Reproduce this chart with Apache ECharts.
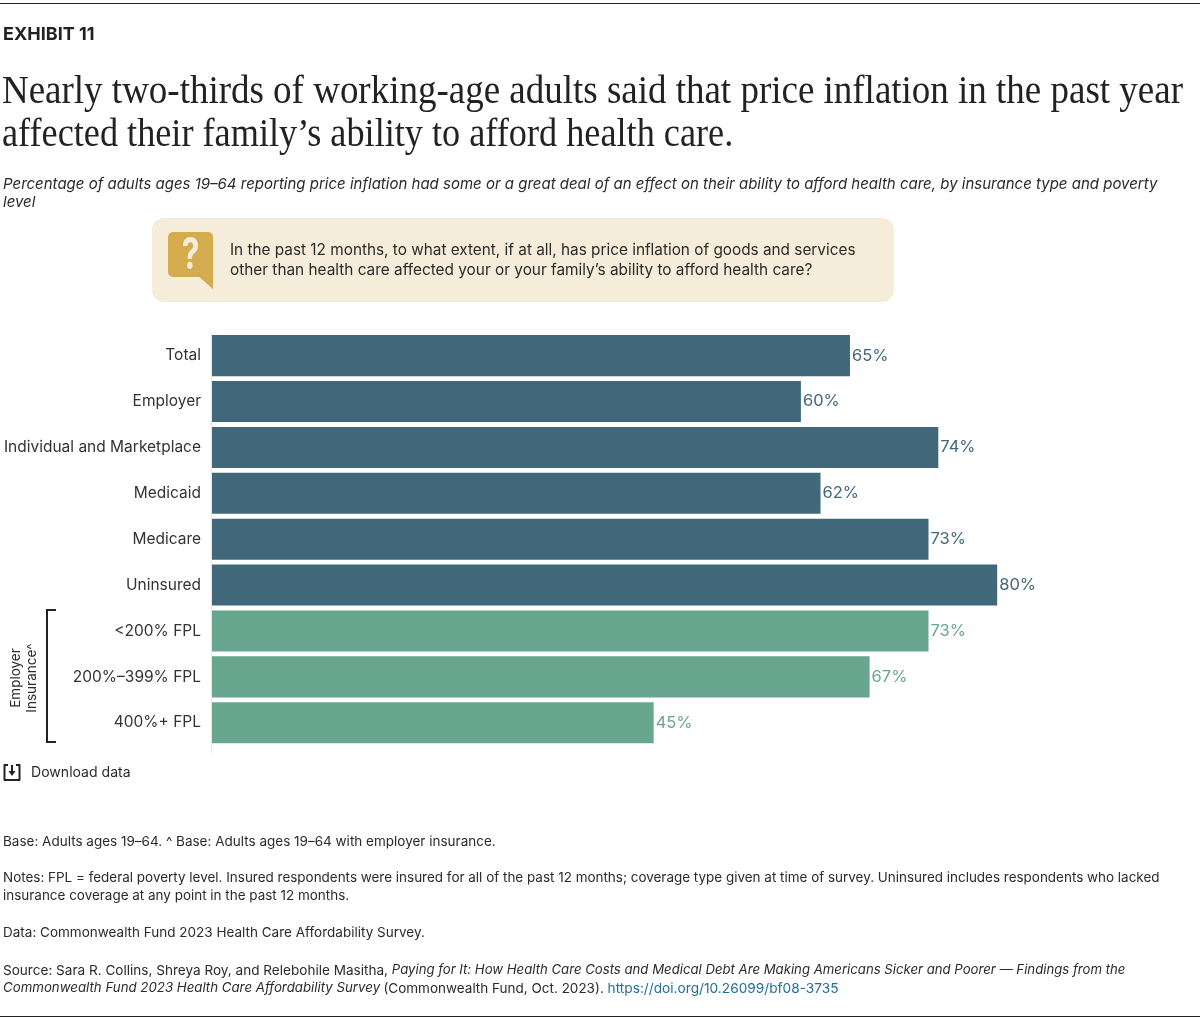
<!DOCTYPE html>
<html><head><meta charset="utf-8">
<style>html,body{margin:0;padding:0;background:#fff}#c{width:1200px;height:1020px}</style>
<script src="https://cdn.jsdelivr.net/npm/echarts@6/dist/echarts.min.js"></script>
</head><body><div id="c"></div>
<script>
const categories = ['Total','Employer','Individual and Marketplace','Medicaid','Medicare','Uninsured','<200% FPL','200%–399% FPL','400%+ FPL'];
const values = [65,60,74,62,73,80,73,67,45];
const groups = ['all','all','all','all','all','all','fpl','fpl','fpl'];
const groupColors = {all:'#41687a', fpl:'#68a690'};
const SANS = 'Inter';
const SERIF = '"Liberation Serif"';
const INK = '#2b2b2b';

function txt(x,y,text,o,extra){
  return Object.assign({type:'text',x,y,silent:true,style:Object.assign({text,fill:INK,font:'15px '+SANS,textVerticalAlign:'middle'},o||{})},extra||{});
}
const chart = echarts.init(document.getElementById('c'),null,{renderer:'canvas'});
chart.setOption({
  animation:false,
  backgroundColor:'#fff',
  grid:{left:212,top:332.7,width:981.5,height:413,containLabel:false},
  xAxis:{type:'value',min:0,max:100,show:false},
  yAxis:{type:'category',inverse:true,data:categories,
    axisLine:{show:false},axisTick:{show:false},
    axisLabel:{color:'#333',fontFamily:SANS,fontSize:15.5,margin:11}},
  series:[{type:'bar',barCategoryGap:'10.5%',
    data:values.map((v,i)=>({value:v,
      itemStyle:{color:groupColors[groups[i]]},
      label:{color:groupColors[groups[i]]}})),
    label:{show:true,position:'right',distance:2,fontFamily:SANS,fontSize:16.5,formatter:p=>p.value+'%'}
  }],
  graphic:{elements:[
    {type:'line',silent:true,shape:{x1:0,y1:3.5,x2:1200,y2:3.5},style:{stroke:'#222',lineWidth:1}},
    {type:'line',silent:true,shape:{x1:0,y1:1016.5,x2:1200,y2:1016.5},style:{stroke:'#222',lineWidth:1}},
    txt(3,35,'EXHIBIT 11',{font:'bold 18px '+SANS,fill:'#222'}),
    txt(2,92,'Nearly two-thirds of working-age adults said that price inflation in the past year',{font:'40px '+SERIF,fill:'#222'},{scaleX:0.9245}),
    txt(2,135,'affected their family’s ability to afford health care.',{font:'40px '+SERIF,fill:'#222'},{scaleX:0.906}),
    txt(3,184,'Percentage of adults ages 19–64 reporting price inflation had some or a great deal of an effect on their ability to afford health care, by insurance type and poverty',{font:'italic 15px '+SANS}),
    txt(3,202,'level',{font:'italic 15px '+SANS}),
    {type:'rect',silent:true,shape:{x:152,y:218,width:742,height:84,r:12},style:{fill:'#f5edda'}},
    {type:'rect',silent:true,shape:{x:168,y:232,width:45,height:45,r:5},style:{fill:'#d4ab4d'}},
    {type:'polygon',silent:true,shape:{points:[[197,275],[213,270],[213,289]]},style:{fill:'#d4ab4d'}},
    txt(190.5,255.5,'?',{font:'bold 44px '+SANS,fill:'#f5edda',textAlign:'center'},{scaleX:0.72}),
    txt(230,250,'In the past 12 months, to what extent, if at all, has price inflation of goods and services',{font:'15.33px '+SANS}),
    txt(230,270,'other than health care affected your or your family’s ability to afford health care?',{font:'15.36px '+SANS}),
    {type:'line',silent:true,shape:{x1:211.5,y1:333,x2:211.5,y2:753},style:{stroke:'#e6e6e6',lineWidth:1}},
    {type:'polyline',silent:true,shape:{points:[[56,610],[47,610],[47,742],[56,742]]},style:{stroke:'#222',lineWidth:2,fill:null}},
    txt(16,678,'Employer',{font:'13.5px '+SANS,textAlign:'center'},{rotation:Math.PI/2}),
    txt(32,678,'Insurance^',{font:'13.5px '+SANS,textAlign:'center'},{rotation:Math.PI/2}),
    {type:'polyline',silent:true,shape:{points:[[8,765],[4.5,765],[4.5,780],[19.5,780],[19.5,765],[16,765]]},style:{stroke:'#222',lineWidth:2,fill:null,lineJoin:'round'}},
    {type:'line',silent:true,shape:{x1:12,y1:765,x2:12,y2:772},style:{stroke:'#222',lineWidth:2}},
    {type:'polygon',silent:true,shape:{points:[[8.5,771],[15.5,771],[12,776]]},style:{fill:'#222'}},
    txt(31,772.5,'Download data',{font:'14.07px '+SANS}),
    txt(3,841.5,'Base: Adults ages 19–64. ^ Base: Adults ages 19–64 with employer insurance.',{font:'13.5px '+SANS}),
    txt(3,877.5,'Notes: FPL = federal poverty level. Insured respondents were insured for all of the past 12 months; coverage type given at time of survey. Uninsured includes respondents who lacked',{font:'13.46px '+SANS}),
    txt(3,896,'insurance coverage at any point in the past 12 months.',{font:'13.46px '+SANS}),
    txt(3,932.5,'Data: Commonwealth Fund 2023 Health Care Affordability Survey.',{font:'13.5px '+SANS}),
    {type:'text',silent:true,x:3,y:970.5,style:{
      text:'{n|Source: Sara R. Collins, Shreya Roy, and Relebohile Masitha, }{i|Paying for It: How Health Care Costs and Medical Debt Are Making Americans Sicker and Poorer — Findings from the}',
      textVerticalAlign:'middle',rich:{n:{font:'13.57px '+SANS,fill:INK},i:{font:'italic 13.18px '+SANS,fill:INK}}}},
    {type:'text',silent:true,x:3,y:988.5,style:{
      text:'{i|Commonwealth Fund 2023 Health Care Affordability Survey} {n|(Commonwealth Fund, Oct. 2023). }{a|https://doi.org/10.26099/bf08-3735}',
      textVerticalAlign:'middle',rich:{n:{font:'13.5px '+SANS,fill:INK},i:{font:'italic 13.28px '+SANS,fill:INK},a:{font:'13.7px '+SANS,fill:'#1f6f9c'}}}}
  ]}
});
</script></body></html>
